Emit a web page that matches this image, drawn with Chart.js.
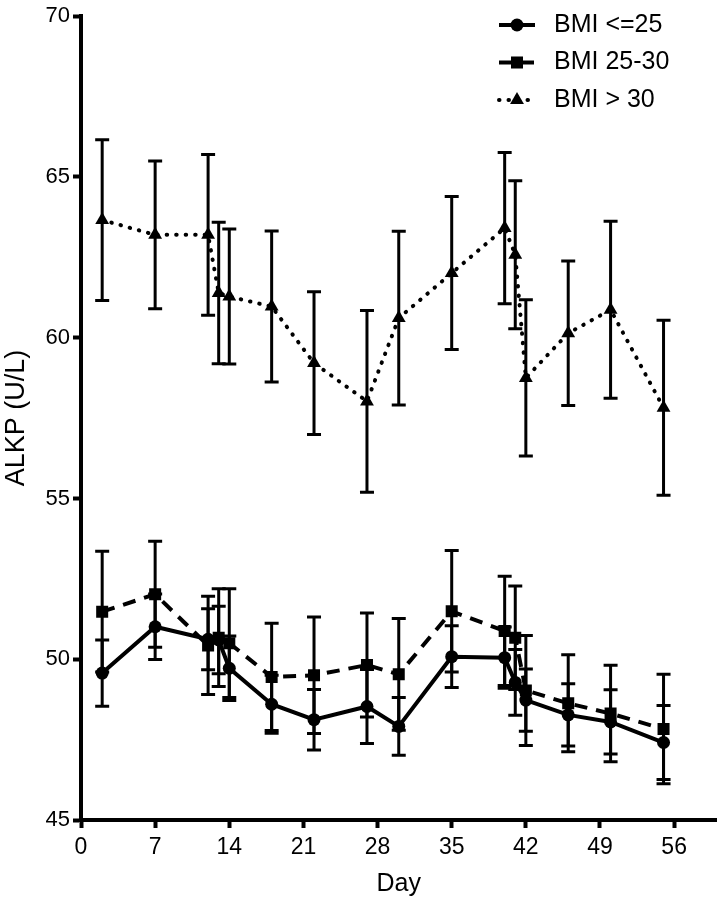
<!DOCTYPE html>
<html>
<head>
<meta charset="utf-8">
<script src="https://cdn.jsdelivr.net/npm/chart.js@4.4.1/dist/chart.umd.min.js"></script>
<style>
    html, body { margin: 0; padding: 0; background: #fff; }
    #chart { display: block; }
</style>
</head>
<body>
<canvas id="chart" width="725" height="900"></canvas>
<script>
// Sampling days and values (mean +/- SEM)
const days = [2, 7, 12, 13, 14, 18, 22, 27, 30, 35, 40, 41, 42, 46, 50, 55];

const bmiLow = [49.57, 51.01, 50.62, 50.6, 49.72, 48.6, 48.12, 48.53, 47.91, 50.08, 50.05, 49.28, 48.73, 48.27, 48.05, 47.41];
const bmiLowErr = [1.03, 1.02, 0.95, 1.05, 1.0, 0.9, 0.94, 1.15, 0.9, 0.96, 0.95, 1.02, 0.97, 0.97, 1.0, 1.15];

const bmiMid = [51.48, 52.02, 50.43, 50.67, 50.5, 49.45, 49.5, 49.82, 49.53, 51.49, 50.88, 50.67, 49.03, 48.63, 48.31, 47.83];
const bmiMidErr = [1.88, 1.65, 1.53, 1.52, 1.69, 1.67, 1.81, 1.62, 1.74, 1.89, 1.7, 1.61, 1.71, 1.51, 1.5, 1.7];

const bmiHigh = [63.66, 63.2, 63.2, 61.39, 61.28, 60.97, 59.21, 58.02, 60.61, 62.01, 63.41, 62.58, 58.75, 60.14, 60.87, 57.82];
const bmiHighErr = [2.5, 2.3, 2.5, 2.2, 2.1, 2.35, 2.22, 2.83, 2.7, 2.38, 2.35, 2.3, 2.43, 2.25, 2.75, 2.72];

const seriesLabels = ['BMI <=25', 'BMI 25-30', 'BMI > 30'];
const xTicks = [0, 7, 14, 21, 28, 35, 42, 49, 56];
const yTicks = [45, 50, 55, 60, 65, 70];

const FONT = "'Liberation Sans', Arial, sans-serif";
const INK = '#000';

function toPoints(values) {
    return days.map((d, i) => ({ x: d, y: values[i] }));
}

// Draw vertical error bars with caps for every dataset
const errorBars = {
    id: 'errorBars',
    afterDatasetsDraw(chart) {
        const ctx = chart.ctx;
        const xs = chart.scales.x;
        const ys = chart.scales.y;
        ctx.save();
        ctx.strokeStyle = INK;
        ctx.lineWidth = 3;
        chart.data.datasets.forEach(ds => {
            ds.data.forEach((p, i) => {
                const e = ds.errors[i];
                const x = xs.getPixelForValue(p.x);
                const top = ys.getPixelForValue(p.y + e);
                const bot = ys.getPixelForValue(p.y - e);
                ctx.beginPath();
                ctx.moveTo(x, top);
                ctx.lineTo(x, bot);
                ctx.moveTo(x - 7, top);
                ctx.lineTo(x + 7, top);
                ctx.moveTo(x - 7, bot);
                ctx.lineTo(x + 7, bot);
                ctx.stroke();
            });
        });
        ctx.restore();
    }
};

// Legend with line sample + marker, like the original figure
const lineLegend = {
    id: 'lineLegend',
    afterDraw(chart) {
        const ctx = chart.ctx;
        ctx.save();
        chart.data.datasets.forEach((ds, i) => {
            const cy = 25 + i * 37.5;
            ctx.strokeStyle = INK;
            ctx.lineWidth = ds.borderWidth;
            ctx.lineCap = ds.borderCapStyle || 'butt';
            ctx.setLineDash(ds.borderDash || []);
            ctx.beginPath();
            ctx.moveTo(499, cy);
            ctx.lineTo(535, cy);
            ctx.stroke();
            ctx.setLineDash([]);
            ctx.fillStyle = INK;
            Chart.helpers.drawPoint(ctx, {
                pointStyle: ds.pointStyle,
                radius: ds.pointRadius,
                borderWidth: 0
            }, 517, cy);
            ctx.font = `25px ${FONT}`;
            ctx.textBaseline = 'middle';
            ctx.textAlign = 'left';
            ctx.fillText(ds.label, 554, cy);
        });
        ctx.restore();
    }
};

new Chart(document.getElementById('chart'), {
    type: 'line',
    data: {
        datasets: [
            {
                label: seriesLabels[0],
                data: toPoints(bmiLow),
                errors: bmiLowErr,
                borderColor: INK,
                backgroundColor: INK,
                borderWidth: 4,
                pointStyle: 'circle',
                pointRadius: 6.5,
                pointBorderWidth: 0
            },
            {
                label: seriesLabels[1],
                data: toPoints(bmiMid),
                errors: bmiMidErr,
                borderColor: INK,
                backgroundColor: INK,
                borderWidth: 4,
                borderDash: [13, 9],
                pointStyle: 'rect',
                pointRadius: 8.5,
                pointBorderWidth: 0
            },
            {
                label: seriesLabels[2],
                data: toPoints(bmiHigh),
                errors: bmiHighErr,
                borderColor: INK,
                backgroundColor: INK,
                borderWidth: 4,
                borderDash: [0.5, 9],
                borderCapStyle: 'round',
                pointStyle: 'triangle',
                pointRadius: 8,
                pointBorderWidth: 0
            }
        ]
    },
    options: {
        responsive: false,
        animation: false,
        devicePixelRatio: 1,
        layout: { padding: { top: 14, right: 5, left: 0, bottom: 0 } },
        plugins: {
            legend: { display: false },
            tooltip: { enabled: false }
        },
        scales: {
            x: {
                type: 'linear',
                min: 0,
                max: 60,
                afterBuildTicks: scale => { scale.ticks = xTicks.map(v => ({ value: v })); },
                afterFit: scale => { scale.height = 80; },
                border: { display: true, color: INK, width: 4 },
                grid: { display: true, drawOnChartArea: false, drawTicks: true, tickLength: 8, tickWidth: 4, tickColor: INK },
                ticks: { color: INK, font: { family: FONT, size: 23 }, padding: 6, maxRotation: 0 },
                title: { display: true, text: 'Day', color: INK, font: { family: FONT, size: 25 }, padding: { top: 0, bottom: 1 } }
            },
            y: {
                type: 'linear',
                min: 45,
                max: 70,
                afterBuildTicks: scale => { scale.ticks = yTicks.map(v => ({ value: v })); },
                afterFit: scale => { scale.width = 81; },
                border: { display: true, color: INK, width: 4 },
                grid: { display: true, drawOnChartArea: false, drawTicks: true, tickLength: 8, tickWidth: 4, tickColor: INK },
                ticks: { color: INK, font: { family: FONT, size: 22 }, padding: 3 },
                title: { display: true, text: 'ALKP (U/L)', color: INK, font: { family: FONT, size: 27 }, padding: { top: 0, bottom: 0 } }
            }
        }
    },
    plugins: [errorBars, lineLegend]
});
</script>
</body>
</html>
